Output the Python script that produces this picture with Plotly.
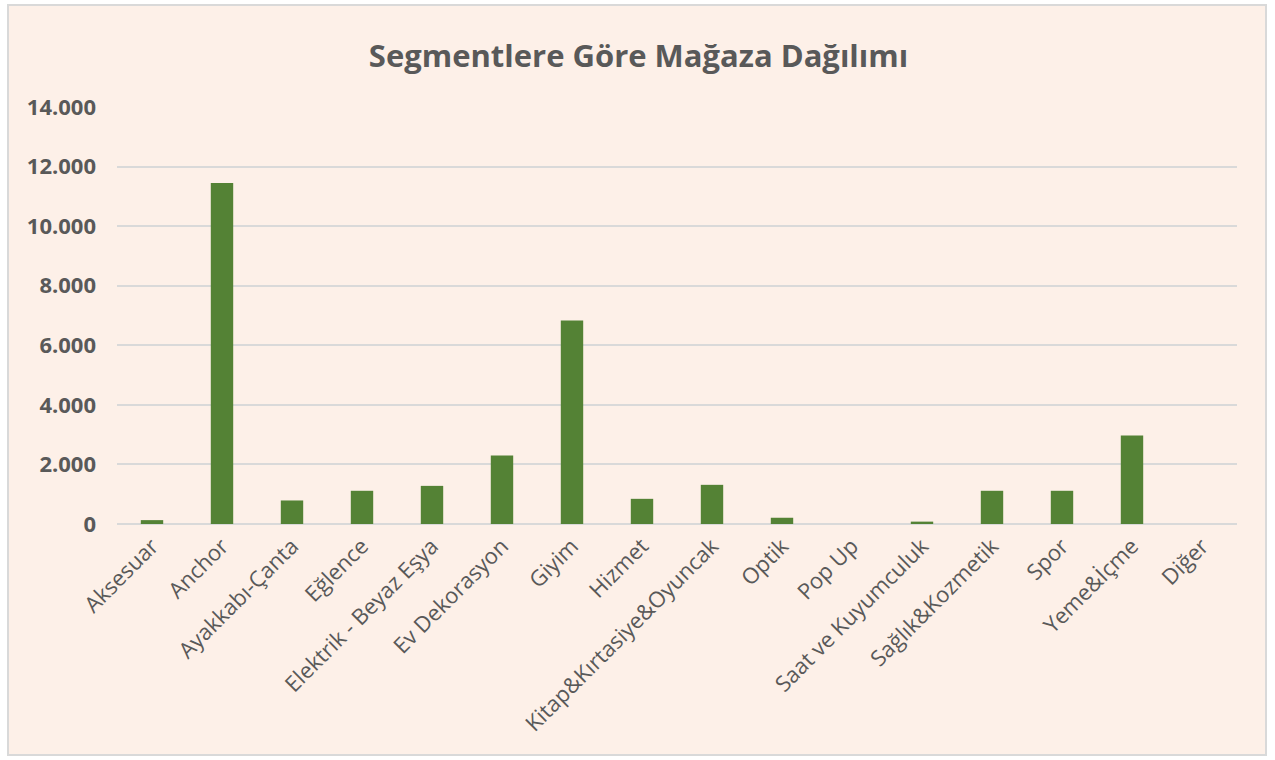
import plotly.graph_objects as go

categories = ["Aksesuar", "Anchor", "Ayakkabı-Çanta", "Eğlence", "Elektrik - Beyaz Eşya",
              "Ev Dekorasyon", "Giyim", "Hizmet", "Kitap&Kırtasiye&Oyuncak", "Optik",
              "Pop Up", "Saat ve Kuyumculuk", "Sağlık&Kozmetik", "Spor", "Yeme&İçme", "Diğer"]
values = [130, 11450, 790, 1115, 1280, 2300, 6830, 845, 1315, 210, 0, 80, 1115, 1115, 2970, 0]
y_ticks = [0, 2000, 4000, 6000, 8000, 10000, 12000, 14000]

W, H = 1275, 760
L, R, T, B = 117, 38, 107, 236
pw, ph = W - L - R, H - T - B

fig = go.Figure()
fig.add_trace(go.Bar(
    x=categories, y=values, width=0.32,
    marker=dict(color="#548235", line=dict(width=0)),
))

def px_x(p):
    return (p - L) / pw

def px_y(p):
    return (H - B - p) / ph

fig.add_shape(type="rect", xref="paper", yref="paper",
              x0=px_x(8), x1=px_x(1266), y0=px_y(755), y1=px_y(5),
              fillcolor="#FDF0E8", line=dict(color="#D9D9D9", width=2), layer="below")

fig.update_layout(
    width=W, height=H,
    margin=dict(l=L, r=R, t=T, b=B),
    paper_bgcolor="white", plot_bgcolor="rgba(0,0,0,0)",
    separators=",.",
    showlegend=False,
    title=dict(text="<b>Segmentlere Göre Mağaza Dağılımı</b>", x=(362 + 915) / 2 / W, xanchor="center",
               xref="container", y=1 - 56 / H, yanchor="middle",
               font=dict(family="Open Sans, sans-serif", size=31, color="#595959")),
    font=dict(family="Open Sans, sans-serif", color="#595959"),
    bargap=0.7,
)
fig.update_xaxes(tickangle=-45, tickfont=dict(size=22, color="#595959"),
                 showgrid=False, showline=False, ticks="", ticklabelstandoff=4)
fig.update_yaxes(range=[0, 14000], tickvals=y_ticks, tickformat=",d",
                 tickfont=dict(size=22, color="#595959", weight="bold"),
                 showgrid=True, gridcolor="#D9D9D9", gridwidth=2,
                 zeroline=True, zerolinecolor="#D9D9D9", zerolinewidth=2,
                 ticklabelstandoff=20, showline=False, ticks="")

fig.write_html("out.html", config={"displayModeBar": False},
               post_script="document.body.style.margin='0';document.body.style.overflow='hidden';")
